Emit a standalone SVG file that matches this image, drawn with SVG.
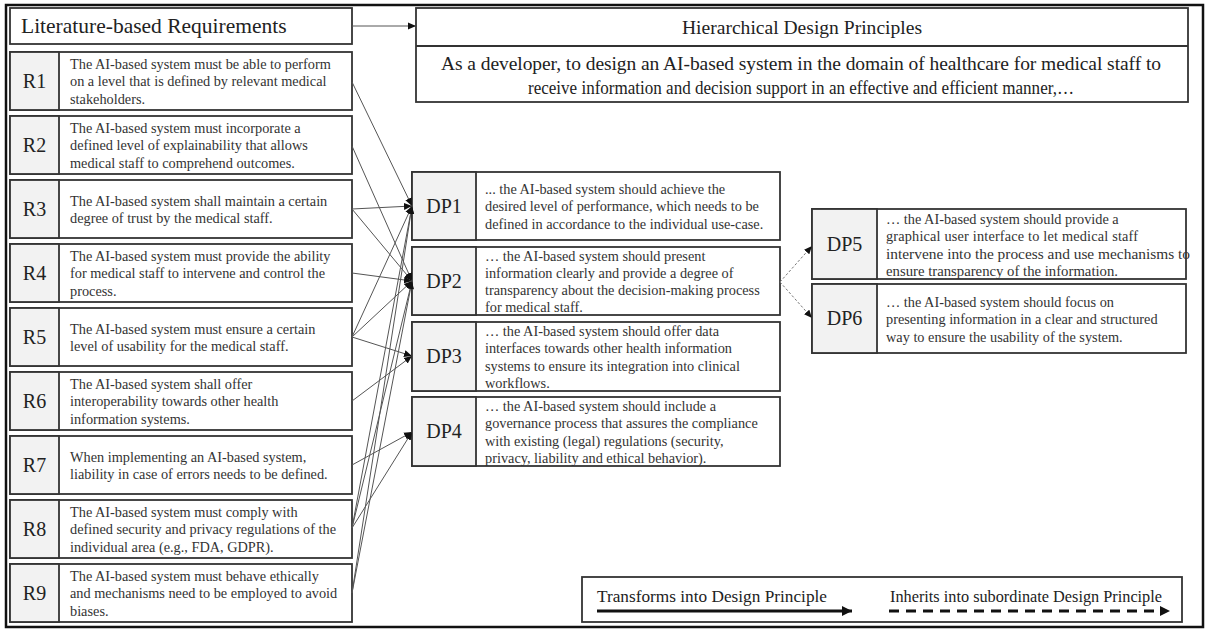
<svg xmlns="http://www.w3.org/2000/svg" width="1206" height="630" viewBox="0 0 1206 630">
<defs>
<style>
.box{fill:#fff;stroke:#333;stroke-width:1.8}
.lab{fill:#f2f2f2;stroke:#333;stroke-width:1.8}
.t{font-family:"Liberation Serif","Times New Roman",serif;font-size:14.3px;fill:#333}
.l{font-family:"Liberation Serif","Times New Roman",serif;font-size:20px;fill:#222;text-anchor:middle}
.h{font-family:"Liberation Serif","Times New Roman",serif;font-size:21.5px;fill:#222}
.s{font-family:"Liberation Serif","Times New Roman",serif;font-size:19.5px;fill:#222;text-anchor:middle}
.g{font-family:"Liberation Serif","Times New Roman",serif;font-size:16.5px;fill:#222}
.c{fill:none;stroke:#555;stroke-width:1;marker-end:url(#ah)}
.d{fill:none;stroke:#777;stroke-width:1;stroke-dasharray:2.5,2;marker-end:url(#ah)}
</style>
<marker id="ah" markerUnits="userSpaceOnUse" markerWidth="9" markerHeight="8" refX="8" refY="4" orient="auto"><path d="M0,0.5 L8,4 L0,7.5 z" fill="#111"/></marker>
<marker id="ahl" markerUnits="userSpaceOnUse" markerWidth="12" markerHeight="10" refX="10" refY="5" orient="auto"><path d="M0,0 L10,5 L0,10 z" fill="#111"/></marker>
</defs>
<rect x="6" y="5" width="1197" height="622" fill="#fff" stroke="#111" stroke-width="2.5"/>

<g id="literature-header">
<rect class="box" x="10" y="8" width="342" height="36"/>
<text class="h" x="21" y="33">Literature-based Requirements</text>
</g>

<g id="hdp-header">
<rect class="box" x="416" y="8" width="772" height="94"/>
<line x1="416" y1="46" x2="1188" y2="46" stroke="#333" stroke-width="1.8"/>
<text class="s" x="802" y="34" font-size="20" textLength="240" lengthAdjust="spacingAndGlyphs">Hierarchical Design Principles</text>
<text class="s" x="801" y="70" font-size="19" textLength="720" lengthAdjust="spacing">As a developer, to design an AI-based system in the domain of healthcare for medical staff to</text>
<text class="s" x="801" y="94" font-size="19" textLength="546" lengthAdjust="spacingAndGlyphs">receive information and decision support in an effective and efficient manner,…</text>
</g>

<g id="R1"><rect class="box" x="10" y="52" width="342" height="58"/><rect class="lab" x="10" y="52" width="49" height="58"/><text class="l" x="34.5" y="88">R1</text>
<text class="t" x="70" y="69">The AI-based system must be able to perform</text><text class="t" x="70" y="86.3">on a level that is defined by relevant medical</text><text class="t" x="70" y="103.6">stakeholders.</text></g>
<g id="R2"><rect class="box" x="10" y="116" width="342" height="58"/><rect class="lab" x="10" y="116" width="49" height="58"/><text class="l" x="34.5" y="152">R2</text>
<text class="t" x="70" y="133">The AI-based system must incorporate a</text><text class="t" x="70" y="150.3">defined level of explainability that allows</text><text class="t" x="70" y="167.6">medical staff to comprehend outcomes.</text></g>
<g id="R3"><rect class="box" x="10" y="180" width="342" height="58"/><rect class="lab" x="10" y="180" width="49" height="58"/><text class="l" x="34.5" y="216">R3</text>
<text class="t" x="70" y="205.5">The AI-based system shall maintain a certain</text><text class="t" x="70" y="222.8">degree of trust by the medical staff.</text></g>
<g id="R4"><rect class="box" x="10" y="244" width="342" height="58"/><rect class="lab" x="10" y="244" width="49" height="58"/><text class="l" x="34.5" y="280">R4</text>
<text class="t" x="70" y="261">The AI-based system must provide the ability</text><text class="t" x="70" y="278.3">for medical staff to intervene and control the</text><text class="t" x="70" y="295.6">process.</text></g>
<g id="R5"><rect class="box" x="10" y="308" width="342" height="58"/><rect class="lab" x="10" y="308" width="49" height="58"/><text class="l" x="34.5" y="344">R5</text>
<text class="t" x="70" y="333.5">The AI-based system must ensure a certain</text><text class="t" x="70" y="350.8">level of usability for the medical staff.</text></g>
<g id="R6"><rect class="box" x="10" y="372" width="342" height="58"/><rect class="lab" x="10" y="372" width="49" height="58"/><text class="l" x="34.5" y="408">R6</text>
<text class="t" x="70" y="389">The AI-based system shall offer</text><text class="t" x="70" y="406.3">interoperability towards other health</text><text class="t" x="70" y="423.6">information systems.</text></g>
<g id="R7"><rect class="box" x="10" y="436" width="342" height="58"/><rect class="lab" x="10" y="436" width="49" height="58"/><text class="l" x="34.5" y="472">R7</text>
<text class="t" x="70" y="461.5">When implementing an AI-based system,</text><text class="t" x="70" y="478.8">liability in case of errors needs to be defined.</text></g>
<g id="R8"><rect class="box" x="10" y="500" width="342" height="58"/><rect class="lab" x="10" y="500" width="49" height="58"/><text class="l" x="34.5" y="536">R8</text>
<text class="t" x="70" y="517">The AI-based system must comply with</text><text class="t" x="70" y="534.3">defined security and privacy regulations of the</text><text class="t" x="70" y="551.6">individual area (e.g., FDA, GDPR).</text></g>
<g id="R9"><rect class="box" x="10" y="564" width="342" height="58"/><rect class="lab" x="10" y="564" width="49" height="58"/><text class="l" x="34.5" y="600">R9</text>
<text class="t" x="70" y="581">The AI-based system must behave ethically</text><text class="t" x="70" y="598.3">and mechanisms need to be employed to avoid</text><text class="t" x="70" y="615.6">biases.</text></g>

<g id="DP1"><rect class="box" x="412" y="172" width="368" height="68"/><rect class="lab" x="412" y="172" width="64" height="68"/><text class="l" x="444" y="213">DP1</text>
<text class="t" x="485" y="194">... the AI-based system should achieve the</text><text class="t" x="485" y="211.3">desired level of performance, which needs to be</text><text class="t" x="485" y="228.6">defined in accordance to the individual use-case.</text></g>
<g id="DP2"><rect class="box" x="412" y="247" width="368" height="68"/><rect class="lab" x="412" y="247" width="64" height="68"/><text class="l" x="444" y="288">DP2</text>
<text class="t" x="485" y="260.5">… the AI-based system should present</text><text class="t" x="485" y="277.8">information clearly and provide a degree of</text><text class="t" x="485" y="295.1">transparency about the decision-making process</text><text class="t" x="485" y="312.4">for medical staff.</text></g>
<g id="DP3"><rect class="box" x="412" y="322" width="368" height="69"/><rect class="lab" x="412" y="322" width="64" height="69"/><text class="l" x="444" y="363">DP3</text>
<text class="t" x="485" y="336">… the AI-based system should offer data</text><text class="t" x="485" y="353.3">interfaces towards other health information</text><text class="t" x="485" y="370.6">systems to ensure its integration into clinical</text><text class="t" x="485" y="387.9">workflows.</text></g>
<g id="DP4"><rect class="box" x="412" y="397" width="368" height="69"/><rect class="lab" x="412" y="397" width="64" height="69"/><text class="l" x="444" y="438">DP4</text>
<text class="t" x="485" y="411">… the AI-based system should include a</text><text class="t" x="485" y="428.3">governance process that assures the compliance</text><text class="t" x="485" y="445.6">with existing (legal) regulations (security,</text><text class="t" x="485" y="462.9">privacy, liability and ethical behavior).</text></g>
<g id="DP5"><rect class="box" x="812" y="209" width="374" height="70"/><rect class="lab" x="812" y="209" width="65" height="70"/><text class="l" x="844.5" y="251">DP5</text>
<text class="t" x="886" y="224">… the AI-based system should provide a</text><text class="t" x="886" y="241.3" textLength="252" lengthAdjust="spacing">graphical user interface to let medical staff</text><text class="t" x="886" y="258.6" textLength="304" lengthAdjust="spacingAndGlyphs">intervene into the process and use mechanisms to</text><text class="t" x="886" y="275.9" textLength="232" lengthAdjust="spacingAndGlyphs">ensure transparency of the information.</text></g>
<g id="DP6"><rect class="box" x="812" y="284" width="374" height="69"/><rect class="lab" x="812" y="284" width="65" height="69"/><text class="l" x="844.5" y="325">DP6</text>
<text class="t" x="886" y="307">… the AI-based system should focus on</text><text class="t" x="886" y="324.3">presenting information in a clear and structured</text><text class="t" x="886" y="341.6">way to ensure the usability of the system.</text></g>

<g id="connectors">
<line class="c" x1="352" y1="26" x2="416" y2="26"/>
<line class="c" x1="352" y1="82" x2="412" y2="206"/>
<line class="c" x1="352" y1="146" x2="412" y2="281"/>
<line class="c" x1="352" y1="209" x2="412" y2="206"/>
<line class="c" x1="352" y1="209" x2="412" y2="281"/>
<line class="c" x1="352" y1="273" x2="412" y2="281"/>
<line class="c" x1="352" y1="337" x2="412" y2="206"/>
<line class="c" x1="352" y1="337" x2="412" y2="281"/>
<line class="c" x1="352" y1="337" x2="412" y2="356"/>
<line class="c" x1="352" y1="401" x2="412" y2="356"/>
<line class="c" x1="352" y1="465" x2="412" y2="432"/>
<line class="c" x1="352" y1="528" x2="412" y2="206"/>
<line class="c" x1="352" y1="528" x2="412" y2="281"/>
<line class="c" x1="352" y1="528" x2="412" y2="432"/>
<line class="c" x1="352" y1="593" x2="412" y2="206"/>
<line class="c" x1="352" y1="593" x2="412" y2="281"/>
<line class="d" x1="780" y1="282" x2="812" y2="246"/>
<line class="d" x1="780" y1="282" x2="812" y2="318"/>
</g>

<g id="legend">
<rect class="box" x="582" y="577" width="600" height="45"/>
<text class="g" x="597" y="602" textLength="230" lengthAdjust="spacingAndGlyphs">Transforms into Design Principle</text>
<line x1="597" y1="611" x2="852" y2="611" stroke="#111" stroke-width="3" marker-end="url(#ahl)"/>
<text class="g" x="890" y="602" textLength="272" lengthAdjust="spacingAndGlyphs">Inherits into subordinate Design Principle</text>
<line x1="889" y1="611" x2="1162" y2="611" stroke="#111" stroke-width="3" stroke-dasharray="10,7"/>
<path d="M1160,606 L1170,611 L1160,616 z" fill="#111"/>
</g>
</svg>
